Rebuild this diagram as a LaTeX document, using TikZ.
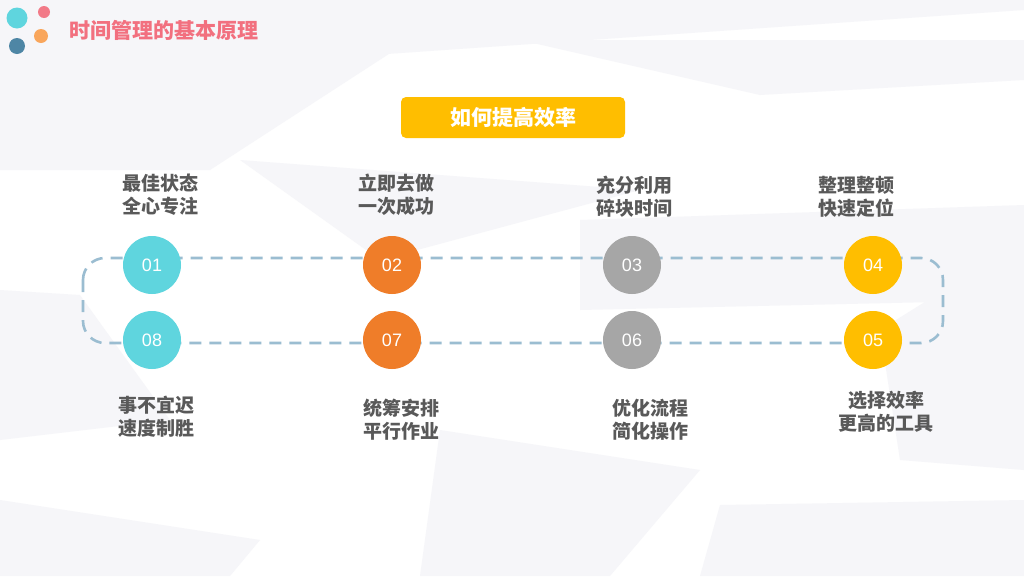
\documentclass[tikz,border=0pt]{standalone}
\usepackage{fontspec}
\newfontfamily\cjk{Noto Sans CJK SC}
\newfontfamily\numfont{Liberation Sans}
\begin{document}
\begin{tikzpicture}[x=1pt,y=-1pt,
  lbl/.style={font=\cjk\bfseries\fontsize{19}{23}\selectfont, text=labelgray, align=center, inner sep=0pt},
  num/.style={circle, minimum size=58pt, inner sep=0pt, text=white, font=\numfont\fontsize{18}{18}\selectfont},
  bgpoly/.style={fill=bggray, draw=none}]
\definecolor{labelgray}{HTML}{595959}
\definecolor{bggray}{HTML}{F6F6F9}
\definecolor{cteal}{HTML}{5FD5DE}
\definecolor{corange}{HTML}{EF7D29}
\definecolor{cgray}{HTML}{A6A6A6}
\definecolor{cyellow}{HTML}{FFBE00}
\definecolor{dashblue}{HTML}{9BBDD1}
\definecolor{titlepink}{HTML}{F2707F}
\definecolor{lpink}{HTML}{F27A88}
\definecolor{lorange}{HTML}{F9A65C}
\definecolor{ldark}{HTML}{4E86A5}
\useasboundingbox (0,0) rectangle (1024,576);
\fill[white] (0,0) rectangle (1024,576);
% faint background shapes
\fill[bgpoly] (0,0) -- (1024,0) -- (1024,10) -- (300,60) -- (0,95) -- cycle;
\fill[bgpoly] (0,60) -- (395,50) -- (210,170) -- (0,170) -- cycle;
\fill[bgpoly] (520,40) -- (1024,40) -- (1024,80) -- (760,95) -- cycle;
\fill[bgpoly] (240,160) -- (640,190) -- (380,260) -- cycle;
\fill[bgpoly] (580,220) -- (1024,205) -- (1024,300) -- (580,310) -- cycle;
\fill[bgpoly] (0,290) -- (80,295) -- (170,420) -- (0,440) -- cycle;
\fill[bgpoly] (880,330) -- (1024,240) -- (1024,470) -- (900,460) -- cycle;
\fill[bgpoly] (440,430) -- (700,470) -- (610,576) -- (420,576) -- cycle;
\fill[bgpoly] (0,500) -- (260,540) -- (230,576) -- (0,576) -- cycle;
\fill[bgpoly] (720,505) -- (1024,500) -- (1024,576) -- (700,576) -- cycle;
% logo
\fill[cteal] (17,18) circle (10.5);
\fill[lpink] (44,12) circle (6);
\fill[lorange] (41,36) circle (7);
\fill[ldark] (17,46) circle (8);
\node[anchor=west, inner sep=0pt, font=\cjk\bfseries\fontsize{21}{21}\selectfont, text=titlepink] (title) at (69,30) {时间管理的基本原理};
% header
\node[fill=cyellow, rounded corners=5pt, minimum width=224pt, minimum height=41pt, inner sep=0pt, text=white, font=\cjk\bfseries\fontsize{21}{21}\selectfont] (head) at (513,117.5) {如何提高效率};
% dashed loop
\draw[dashblue, line width=2.6pt, dash pattern=on 12pt off 8pt, rounded corners=22pt] (83,258) rectangle (943,343);
% circles
\node[num, fill=cteal] (c1) at (152,265) {01};
\node[num, fill=corange] (c2) at (392,265) {02};
\node[num, fill=cgray] (c3) at (632,265) {03};
\node[num, fill=cyellow] (c4) at (873,265) {04};
\node[num, fill=cyellow] (c5) at (873,340) {05};
\node[num, fill=cgray] (c6) at (632,340) {06};
\node[num, fill=corange] (c7) at (392,340) {07};
\node[num, fill=cteal] (c8) at (152,340) {08};
% labels
\node[lbl] (l1) at (160,195) {最佳状态\\全心专注};
\node[lbl] (l2) at (396,195) {立即去做\\一次成功};
\node[lbl] (l3) at (634,197) {充分利用\\碎块时间};
\node[lbl] (l4) at (856,197) {整理整顿\\快速定位};
\node[lbl] (l8) at (156,417) {事不宜迟\\速度制胜};
\node[lbl] (l7) at (401,420) {统筹安排\\平行作业};
\node[lbl] (l6) at (650,420) {优化流程\\简化操作};
\node[lbl] (l5) at (886,412) {选择效率\\更高的工具};
\end{tikzpicture}
\end{document}
